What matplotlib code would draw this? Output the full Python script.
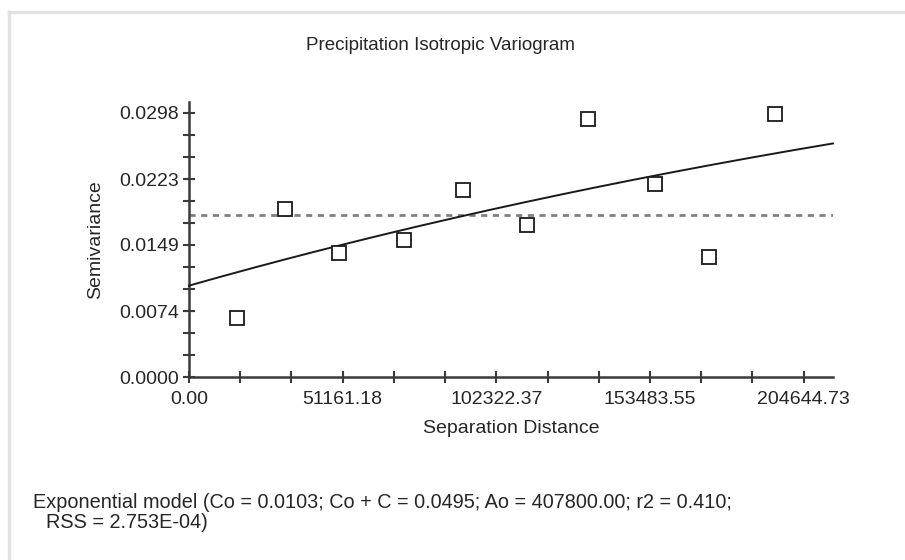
import numpy as np
import matplotlib
matplotlib.use("Agg")
import matplotlib.pyplot as plt
from matplotlib.ticker import FixedLocator, MultipleLocator
from matplotlib.lines import Line2D

# ---- data ----
lag_distance = [15880, 31955, 50030, 71670, 91310, 112610, 132710, 155110, 173090, 195060]
semivariance = [0.00663, 0.01893, 0.01396, 0.01539, 0.02111, 0.01716, 0.02909, 0.02175, 0.01358, 0.02969]
sample_variance = 0.01829
nugget = 0.0103
sill = 0.0495
range_a0 = 407800.0

x_ticks = [0.00, 51161.18, 102322.37, 153483.55, 204644.73]
x_tick_labels = ["0.00", "51161.18", "102322.37", "153483.55", "204644.73"]
y_ticks = [0.0000, 0.0074, 0.0149, 0.0223, 0.0298]
y_tick_labels = ["0.0000", "0.0074", "0.0149", "0.0223", "0.0298"]
x_max = 214400
y_max = 0.0310

title = "Precipitation Isotropic Variogram"
x_label = "Separation Distance"
y_label = "Semivariance"
footer_1 = "Exponential model (Co = 0.0103; Co + C = 0.0495; Ao = 407800.00; r2 = 0.410;"
footer_2 = "RSS = 2.753E-04)"

plt.rcParams['font.family'] = ['Liberation Sans', 'DejaVu Sans']
W, H = 905, 560
fig = plt.figure(figsize=(W / 100, H / 100), dpi=100)
fig.patch.set_facecolor("white")

def fx(px):
    return px / W

def fy(py):
    return 1 - py / H

ax = fig.add_axes([fx(189), fy(377), fx(833) - fx(189), fy(102) - fy(377)])
ax.set_xlim(0, x_max)
ax.set_ylim(0, y_max)

axis_col = "#3a3a3a"
text_col = "#262626"
fs = 14

for s in ["top", "right"]:
    ax.spines[s].set_visible(False)
for s in ["left", "bottom"]:
    ax.spines[s].set_color(axis_col)
    ax.spines[s].set_linewidth(1.8)

ax.xaxis.set_major_locator(FixedLocator(x_ticks))
ax.set_xticklabels(x_tick_labels)
ax.xaxis.set_minor_locator(MultipleLocator(x_ticks[1] / 3))
ax.yaxis.set_major_locator(FixedLocator(y_ticks))
ax.set_yticklabels(y_tick_labels)
ax.yaxis.set_minor_locator(MultipleLocator(y_ticks[4] / 12))

ax.tick_params(which="both", direction="inout", color=axis_col, width=1.5,
               labelsize=fs, labelcolor=text_col)
ax.tick_params(axis="x", which="major", length=8, pad=6)
ax.tick_params(axis="y", which="major", length=8, pad=3)
ax.tick_params(which="minor", length=8)

# model curve
h = np.linspace(0, x_max, 300)
gamma = nugget + (sill - nugget) * (1 - np.exp(-h / range_a0))
ax.plot(h, gamma, color="#1a1a1a", lw=1.4, zorder=3, clip_on=False)

# sample variance line
ax.axhline(sample_variance, color="#808080", lw=2.0, linestyle=(0, (2.2, 2.0)), zorder=2)

# data points
ax.plot(lag_distance, semivariance, linestyle="none", marker="s", markersize=10.5,
        markerfacecolor="white", markeredgecolor="#1a1a1a", markeredgewidth=1.3, zorder=4)

ax.set_xlabel(x_label, fontsize=fs, color=text_col, labelpad=9)
ax.set_ylabel(y_label, fontsize=fs, color=text_col, labelpad=11)

fig.text(fx(440), fy(45), title, ha="center", va="center", fontsize=13.5, color=text_col)
fig.text(fx(33), fy(503), footer_1, ha="left", va="center", fontsize=14.3, color=text_col)
fig.text(fx(46), fy(523), footer_2, ha="left", va="center", fontsize=14.3, color=text_col)

# light frame (top and left edge visible)
fig.add_artist(Line2D([fx(9), 1.0], [fy(12), fy(12)], color="#e2e2e2", lw=2.5))
fig.add_artist(Line2D([fx(9), fx(9)], [fy(12), 0.0], color="#e2e2e2", lw=2.5))

fig.savefig("out.png", dpi=100, facecolor="white")
